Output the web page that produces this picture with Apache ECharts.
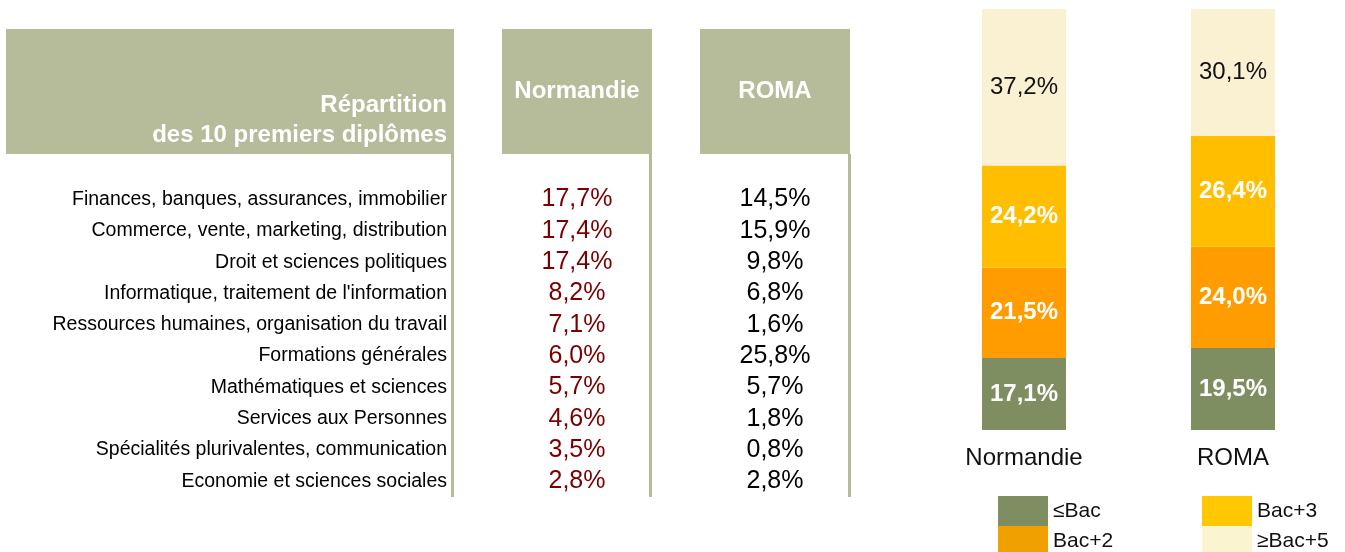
<!DOCTYPE html>
<html>
<head>
<meta charset="utf-8">
<script src="https://cdn.jsdelivr.net/npm/echarts@6/dist/echarts.min.js"></script>
<style>
html,body{margin:0;padding:0;background:#fff;}
#chart{width:1345px;height:552px;}
</style>
</head>
<body>
<div id="chart"></div>
<script>
const categories = [
  'Finances, banques, assurances, immobilier',
  'Commerce, vente, marketing, distribution',
  'Droit et sciences politiques',
  "Informatique, traitement de l'information",
  'Ressources humaines, organisation du travail',
  'Formations générales',
  'Mathématiques et sciences',
  'Services aux Personnes',
  'Spécialités plurivalentes, communication',
  'Economie et sciences sociales'
];
const regions = ['Normandie', 'ROMA'];
const normandieShares = [17.7, 17.4, 17.4, 8.2, 7.1, 6.0, 5.7, 4.6, 3.5, 2.8];
const romaShares = [14.5, 15.9, 9.8, 6.8, 1.6, 25.8, 5.7, 1.8, 0.8, 2.8];
const levels = ['≤Bac', 'Bac+2', 'Bac+3', '≥Bac+5'];
const levelNormandie = [17.1, 21.5, 24.2, 37.2];
const levelRoma = [19.5, 24.0, 26.4, 30.1];
const headerTitle = 'Répartition\ndes 10 premiers diplômes';

const FONT = '"Liberation Sans", Arial, sans-serif';
const HEADER = '#b6bb9a';
const barColors = ['#7e8e60', '#ff9c00', '#ffbf00', '#faf0d2'];
const legendColors = ['#7e8e60', '#f0a000', '#ffc800', '#faf5d0'];
const fmt = v => v.toFixed(1).replace('.', ',') + '%';

const chart = echarts.init(document.getElementById('chart'), null, {renderer: 'canvas'});

const tableSeries = [normandieShares, romaShares].map((arr, k) => ({
  type: 'scatter',
  name: regions[k],
  xAxisIndex: 0,
  yAxisIndex: 0,
  symbolSize: 1,
  itemStyle: {color: 'rgba(0,0,0,0)', opacity: 1},
  silent: true,
  label: {
    show: true,
    position: 'inside',
    formatter: p => fmt(p.value[2]),
    fontFamily: FONT,
    fontSize: 25,
    opacity: 1,
    color: k === 0 ? '#7a0000' : '#000'
  },
  data: arr.map((v, i) => [regions[k], categories[i], v])
}));

const barSeries = levels.map((lv, j) => ({
  type: 'bar',
  name: lv,
  stack: 'total',
  xAxisIndex: 1,
  yAxisIndex: 1,
  barWidth: 84,
  itemStyle: {color: barColors[j]},
  label: {
    show: true,
    position: 'inside',
    formatter: p => fmt(p.value),
    fontFamily: FONT,
    fontSize: 24,
    fontWeight: j === 3 ? 'normal' : 'bold',
    color: j === 3 ? '#111' : '#fff'
  },
  data: [levelNormandie[j], levelRoma[j]]
}));

const legendText = {fontFamily: FONT, fontSize: 21, color: '#111'};

chart.setOption({
  animation: false,
  backgroundColor: '#fff',
  grid: [
    {left: 478, top: 183.8, width: 396, height: 313.3},
    {left: 919.5, top: 9, width: 418, height: 421}
  ],
  xAxis: [
    {
      type: 'category', gridIndex: 0, position: 'top', data: regions,
      axisLine: {show: false}, axisTick: {show: false}, splitLine: {show: false},
      axisLabel: {
        interval: 0, margin: 29.8,
        fontFamily: FONT, fontSize: 24, fontWeight: 'bold', color: '#fff',
        backgroundColor: HEADER, width: 150, lineHeight: 125, align: 'center'
      }
    },
    {
      type: 'category', gridIndex: 1, data: regions,
      axisLine: {show: false}, axisTick: {show: false},
      axisLabel: {interval: 0, margin: 16, fontFamily: FONT, fontSize: 24, color: '#111'}
    }
  ],
  yAxis: [
    {
      type: 'category', gridIndex: 0, inverse: true, data: categories,
      axisLine: {show: false}, axisTick: {show: false}, splitLine: {show: false},
      axisLabel: {interval: 0, margin: 31, fontFamily: FONT, fontSize: 19.5, color: '#000'}
    },
    {type: 'value', gridIndex: 1, min: 0, max: 100, show: false}
  ],
  legend: [
    {
      left: 998, top: 496, width: 180, height: 90, orient: 'vertical', itemWidth: 50, itemHeight: 30, itemGap: 0,
      padding: 0, icon: 'rect', selectedMode: false, textStyle: legendText,
      data: [0, 1].map(j => ({name: levels[j], itemStyle: {color: legendColors[j]}}))
    },
    {
      left: 1202, top: 496, width: 140, height: 90, orient: 'vertical', itemWidth: 50, itemHeight: 30, itemGap: 0,
      padding: 0, icon: 'rect', selectedMode: false, textStyle: legendText,
      data: [2, 3].map(j => ({name: levels[j], itemStyle: {color: legendColors[j]}}))
    }
  ],
  graphic: [
    {type: 'rect', shape: {x: 6, y: 29, width: 448, height: 125}, style: {fill: HEADER}, silent: true},
    {type: 'text', style: {x: 447, y: 150, text: headerTitle, textAlign: 'right', textVerticalAlign: 'bottom',
      fill: '#fff', fontFamily: FONT, fontSize: 24, fontWeight: 'bold', lineHeight: 30}, silent: true},
    {type: 'line', shape: {x1: 452.5, y1: 154, x2: 452.5, y2: 497}, style: {stroke: HEADER, lineWidth: 3}, silent: true},
    {type: 'line', shape: {x1: 650.5, y1: 154, x2: 650.5, y2: 497}, style: {stroke: HEADER, lineWidth: 3}, silent: true},
    {type: 'line', shape: {x1: 849.5, y1: 154, x2: 849.5, y2: 497}, style: {stroke: HEADER, lineWidth: 3}, silent: true}
  ],
  series: tableSeries.concat(barSeries)
});
</script>
</body>
</html>
